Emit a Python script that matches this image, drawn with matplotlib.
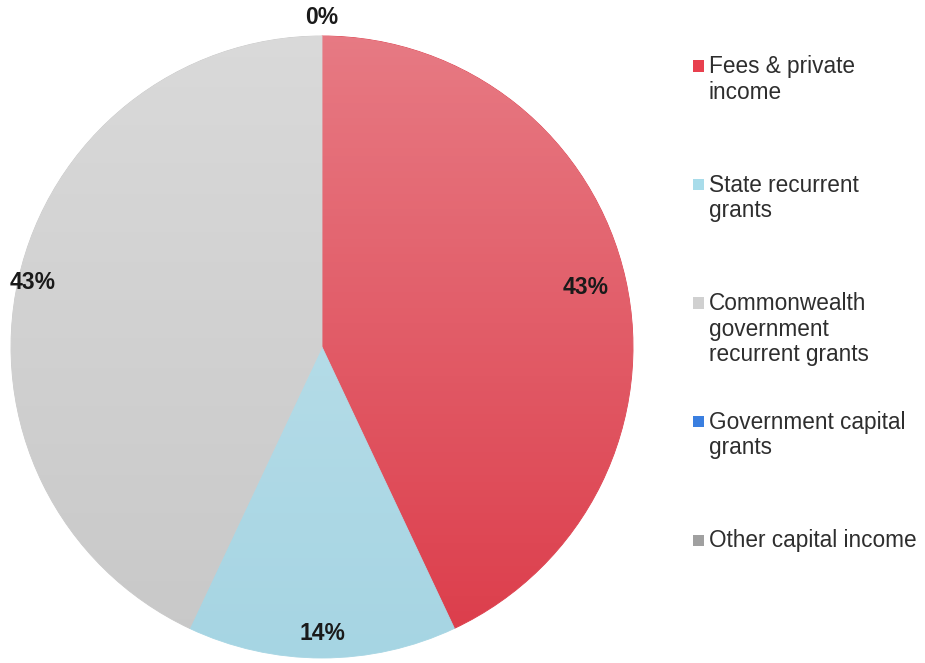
import numpy as np
import matplotlib
matplotlib.use("Agg")
import matplotlib.pyplot as plt
from matplotlib.patches import Circle, Rectangle

plt.rcParams["font.family"] = ["Liberation Sans", "DejaVu Sans"]

# ---------------------------------------------------------------------------
# Data
# ---------------------------------------------------------------------------
categories = [
    "Fees & private\nincome",
    "State recurrent\ngrants",
    "Commonwealth\ngovernment\nrecurrent grants",
    "Government capital\ngrants",
    "Other capital income",
]
shares = [43, 14, 43, 0, 0]
colors = ["#dc3c4a", "#a6d5e3", "#c8c8c8", "#3a7fe0", "#a0a0a0"]
legend_colors = ["#e8404e", "#a8dcea", "#d0d0d0", "#3a7fe0", "#a0a0a0"]
label_radius = [0.87, 0.92, 0.955, 1.06, 1.06]

W, H = 925, 663
fig = plt.figure(figsize=(W / 100, H / 100), dpi=100)

# pie centre (322, 347) px, radius 311 px
cx, cy, r = 322, 347, 311
ax = fig.add_axes([(cx - r) / W, (H - cy - r) / H, 2 * r / W, 2 * r / H])
ax.axis("off")

wedges, _ = ax.pie(shares, colors=colors, startangle=90, counterclock=False,
                   radius=1.0, wedgeprops=dict(linewidth=0.6))
for w, v in zip(wedges, shares):
    # same-colour edge hides the hairline seams; zero slices get no edge at all
    w.set_edgecolor(w.get_facecolor())
    if v == 0:
        w.set_linewidth(0)
ax.set_xlim(-1, 1)
ax.set_ylim(-1, 1)

# vertical light gradient over the pie (lighter at the top)
grad = np.zeros((256, 1, 4))
grad[:, 0, :3] = 1.0
grad[:, 0, 3] = np.linspace(0.32, 0.0, 256)
im = ax.imshow(grad, extent=(-1, 1, -1, 1), origin="upper", aspect="auto",
               zorder=3, interpolation="bilinear")
im.set_clip_path(Circle((0, 0), 1.0, transform=ax.transData))

# percent labels (zero slices share one spot at the top)
placed = set()
for w, v, rr in zip(wedges, shares, label_radius):
    mid = np.deg2rad((w.theta1 + w.theta2) / 2)
    x, y = rr * np.cos(mid), rr * np.sin(mid)
    key = (round(x, 2), round(y, 2))
    if key in placed:
        continue
    placed.add(key)
    ax.text(x, y, f"{v}%", ha="center", va="center",
            fontsize=16.5, fontweight="bold", color="#1a1a1a", zorder=5, clip_on=False)

# legend drawn by hand so entries keep an even pitch
y0, pitch = 66, 118.5
for i, (lab, col) in enumerate(zip(categories, legend_colors)):
    yc = y0 + i * pitch
    fig.patches.append(Rectangle((693 / W, (H - yc - 5.5) / H), 11 / W, 11 / H,
                                 transform=fig.transFigure, facecolor=col,
                                 edgecolor="none"))
    fig.text(709 / W, (H - yc + 11) / H, lab, ha="left", va="top",
             fontsize=16.3, color="#2e2e2e", linespacing=1.15)

fig.savefig("out.png", dpi=100)
